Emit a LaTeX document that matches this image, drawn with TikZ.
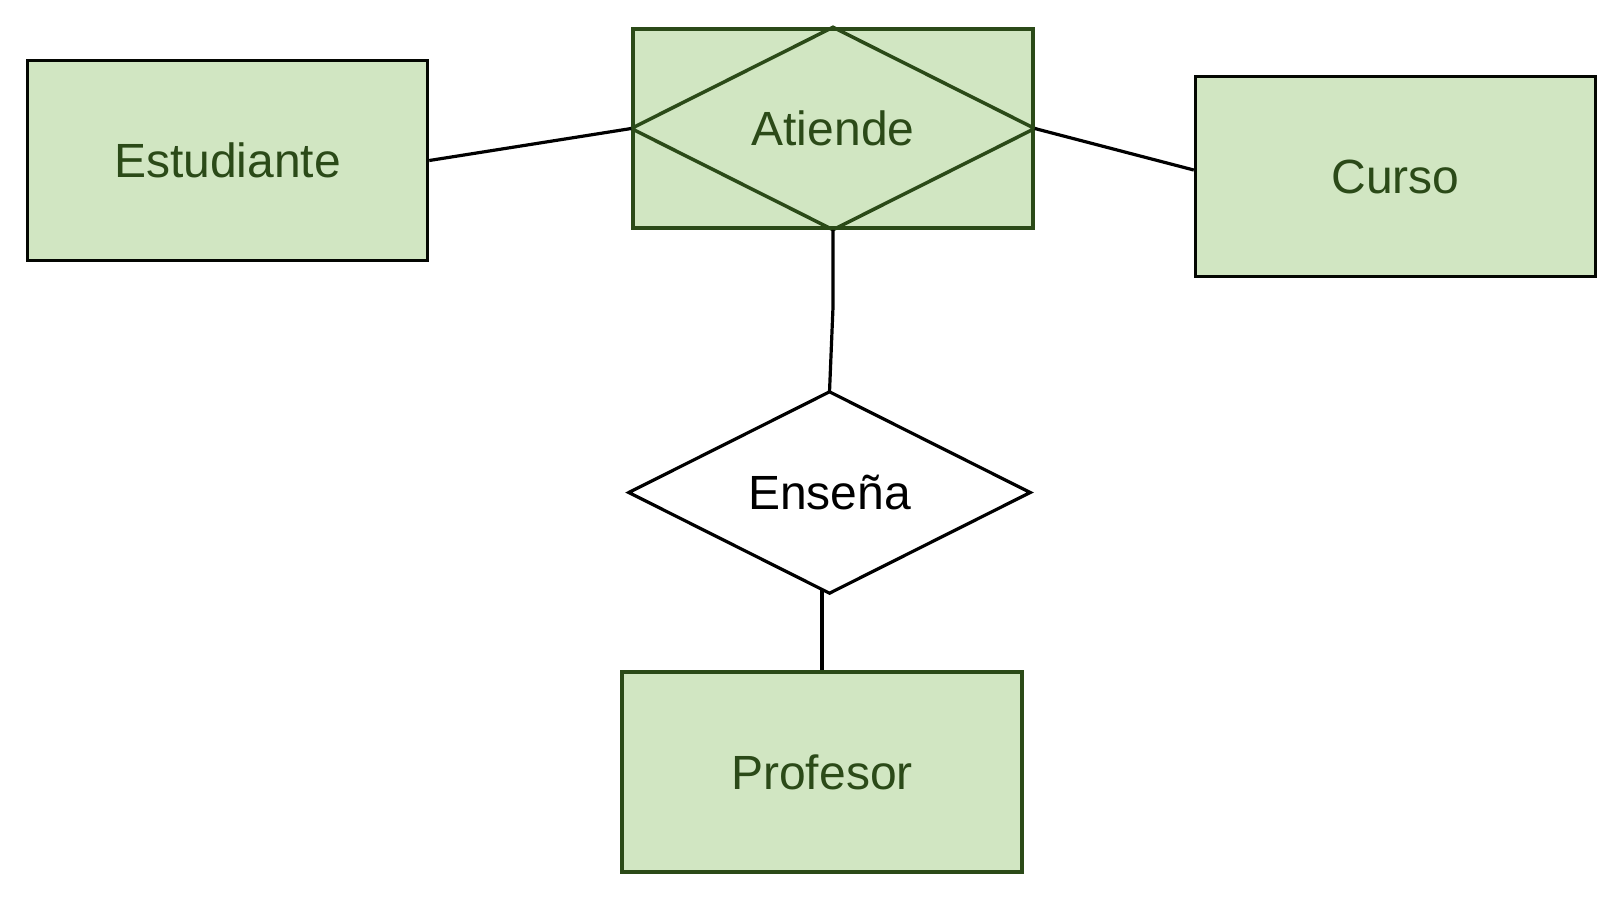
\documentclass[tikz,border=0pt]{standalone}
\usepackage{fontspec}
\setmainfont{Liberation Sans}
\usetikzlibrary{calc}
\definecolor{boxfill}{HTML}{D1E6C2}
\definecolor{boxline}{HTML}{2B4A18}
\begin{document}
\begin{tikzpicture}[x=1pt,y=-1pt,
  lbl/.style={font=\fontsize{48}{57}\selectfont},
  entity/.style={draw=boxline,fill=boxfill,line width=3.5pt,minimum width=400pt,minimum height=200pt,inner sep=0pt,text=boxline,lbl},
  conn/.style={line width=3.2pt,draw=black}]
\useasboundingbox (0,0) rectangle (1624,900);
\fill[white] (0,0) rectangle (1624,900);
\node[entity,draw=black!90!boxline] (est) at (227.5,160.5) {Estudiante};
\node[entity,draw=black!90!boxline] (cur) at (1395.5,176.5) {Curso};
\node[entity] (pro) at (822,772) {Profesor};
\node[entity,minimum height=199pt] (ati) at (833,128.5) {};
\draw[boxline,line width=3.5pt,line join=miter] (ati.north) -- (ati.east) -- (ati.south) -- (ati.west) -- cycle;
\node[text=boxline,lbl] (atitxt) at (ati.center) {Atiende};
\node[minimum width=401pt,minimum height=201pt,inner sep=0pt] (ens) at (829.5,492.5) {};
\draw[black,line width=3.2pt,fill=white] (ens.north) -- (ens.east) -- (ens.south) -- (ens.west) -- cycle;
\node[lbl] (enstxt) at (ens.center) {Enseña};
\coordinate (bend) at (833,307);
\coordinate (ensb) at (822,589.5);
\draw[conn] (est.east) -- (ati.west);
\draw[conn] (ati.east) -- ([yshift=6.5pt]cur.west);
\draw[conn] (ati.south) -- (bend) -- (ens.north);
\draw[conn] (ensb) -- (pro.north);
\end{tikzpicture}
\end{document}
